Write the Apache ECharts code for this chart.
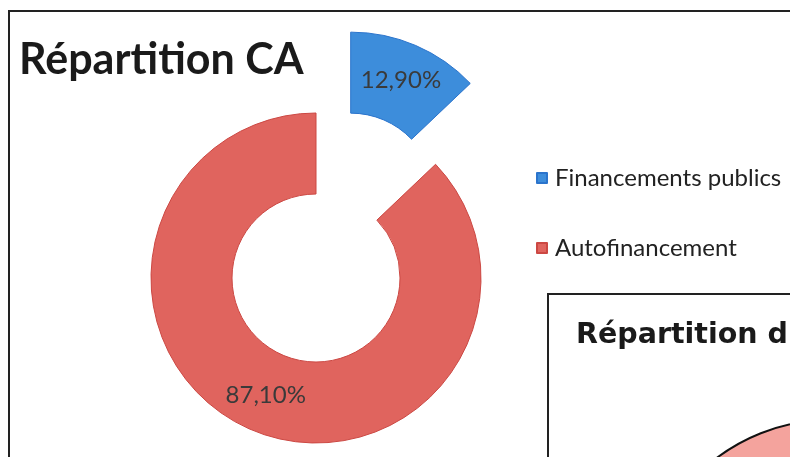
<!DOCTYPE html>
<html>
<head>
<meta charset="utf-8">
<script src="https://cdn.jsdelivr.net/npm/echarts@6/dist/echarts.min.js"></script>
<style>
html,body{margin:0;padding:0;background:#fff;}
#chart{width:790px;height:457px;}
</style>
</head>
<body>
<div id="chart"></div>
<script>
// Data
var categories = ['Financements publics', 'Autofinancement'];
var shares = [12.9, 87.1];
var colors = ['#3d8ddb', '#e0645e'];
var borderColors = ['#2b74cc', '#cc4843'];
var mainTitle = 'Répartition CA';
var secondTitle = 'Répartition d';
var secondCategories = ['Répartition (suite)'];
var secondValues = [100];

function fmt(v) { return v.toFixed(2).replace('.', ',') + '%'; }

var chart = echarts.init(document.getElementById('chart'), null, {renderer: 'canvas'});

var mainData = categories.map(function (c, i) {
  return {
    name: c,
    value: shares[i],
    selected: i === 0,
    itemStyle: {color: colors[i], borderColor: borderColors[i], borderWidth: 1},
    select: {itemStyle: {color: colors[i], borderColor: borderColors[i], borderWidth: 1}}
  };
});

var option = {
  animation: false,
  backgroundColor: '#ffffff',
  title: [{
    text: mainTitle,
    left: 14, top: 34,
    textStyle: {fontFamily: 'Lato', fontWeight: 'bold', fontSize: 43, color: '#1a1a1a'}
  }, {
    text: secondTitle,
    left: 571, top: 316,
    textStyle: {fontFamily: 'DejaVu Sans', fontWeight: 'bold', fontSize: 28.5, color: '#1a1a1a'}
  }],
  legend: {
    data: categories,
    orient: 'vertical',
    left: 531, top: 161,
    itemWidth: 10, itemHeight: 10,
    itemGap: 46,
    icon: 'rect',
    selectedMode: false,
    textStyle: {fontFamily: 'Lato', fontSize: 24, color: '#222', padding: [0, 0, 0, 3]}
  },
  graphic: [{
    type: 'rect', z: 0,
    shape: {x: 9, y: 11, width: 800, height: 470},
    style: {fill: 'none', stroke: '#222', lineWidth: 2}
  }, {
    type: 'rect', z: 0,
    shape: {x: 548, y: 294, width: 300, height: 200},
    style: {fill: 'none', stroke: '#222', lineWidth: 2}
  }],
  series: [{
    type: 'pie',
    center: [316, 278],
    radius: [84, 165],
    startAngle: 90,
    clockwise: true,
    selectedMode: 'single',
    selectedOffset: 88,
    silent: true,
    label: {
      show: true,
      position: 'inside',
      formatter: function (p) { return fmt(p.value); },
      fontFamily: 'Lato',
      fontSize: 24,
      color: '#3a3a3a'
    },
    labelLine: {show: false},
    emphasis: {disabled: true},
    data: mainData
  }, {
    type: 'pie',
    center: [830, 608],
    radius: [0, 188],
    silent: true,
    label: {show: false},
    labelLine: {show: false},
    emphasis: {disabled: true},
    itemStyle: {color: '#f4a39d', borderColor: '#111', borderWidth: 2},
    data: secondCategories.map(function (c, i) { return {name: c, value: secondValues[i]}; })
  }]
};
chart.setOption(option);
</script>
</body>
</html>
